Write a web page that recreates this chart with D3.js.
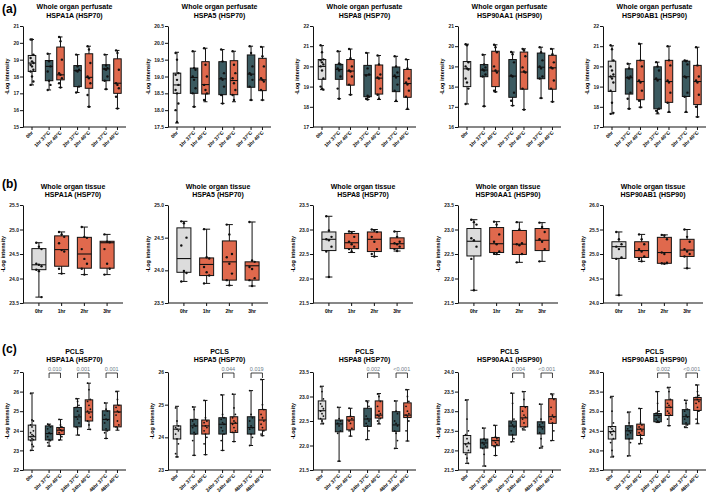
<!DOCTYPE html>
<html>
<head>
<meta charset="utf-8">
<script src="https://cdn.jsdelivr.net/npm/d3@7"></script>
<style>
  body { margin: 0; background: #fff; }
  text { font-family: "Liberation Sans", Arial, sans-serif; }
</style>
</head>
<body>
<svg id="fig" width="709" height="500"></svg>
<script>
// ---------- categories / labels ----------
var groupsA = ['0hr', '1hr 37°C', '1hr 40°C', '2hr 37°C', '2hr 40°C', '3hr 37°C', '3hr 40°C'];
var groupsB = ['0hr', '1hr', '2hr', '3hr'];
var groupsC = ['0hr', '3hr 37°C', '3hr 40°C', '24hr 37°C', '24hr 40°C', '48hr 37°C', '48hr 40°C'];
var proteins = ['HSPA1A (HSP70)', 'HSPA5 (HSP70)', 'HSPA8 (HSP70)', 'HSP90AA1 (HSP90)', 'HSP90AB1 (HSP90)'];
var sources = ['Whole organ perfusate', 'Whole organ tissue', 'PCLS'];

// y axis [min, max, step]
var yAxisA = [[15, 21, 1], [17.5, 20.5, 0.5], [17, 22, 1], [16, 21, 1], [17, 22, 1]];
var yAxisB = [[23.5, 25.5, 0.5], [23.5, 25.0, 0.5], [21.5, 23.5, 0.5], [21.5, 23.5, 0.5], [24.0, 26.0, 0.5]];
var yAxisC = [[22, 27, 1], [23, 26, 1], [21.5, 23.5, 0.5], [21.5, 24.0, 0.5], [23.5, 26.0, 0.5]];

// p values over the 37/40 pairs in (c)
var pvalsC = [
  ['0.010', '0.001', '0.001'],
  [null, '0.044', '0.019'],
  [null, '0.002', '<0.001'],
  [null, '0.004', '<0.001'],
  [null, '0.002', '<0.001']
];

// ---------- (a) whole organ perfusate: [min, q1, median, q3, max] ----------
var perfHSPA1A = [[17.5, 18.3, 18.8, 19.25, 20.2], [17.2, 17.75, 18.6, 18.95, 19.35], [17.35, 17.8, 18.1, 19.75, 20.35],
  [17.05, 17.4, 18.35, 18.65, 19.3], [16.2, 17.3, 17.95, 19.35, 19.8], [17.25, 17.75, 18.45, 18.7, 19.3], [16.1, 17.0, 17.6, 19.05, 19.55]];
var perfHSPA1A_pts = [[20.2, 20.2, 19.3, 19.1, 18.9, 18.8, 18.7, 18.6, 18.4, 18.3, 18.0, 17.7, 17.5], [19.35, 18.9, 18.6, 18.3, 17.75, 17.5, 17.2],
  [20.35, 20.1, 19.0, 18.2, 18.1, 17.9, 17.6, 17.35], [19.3, 18.6, 18.4, 18.35, 18.3, 17.4, 17.05], [19.8, 19.6, 18.8, 18.0, 17.9, 17.6, 16.9, 16.2],
  [19.3, 18.65, 18.5, 18.45, 18.4, 18.0, 17.75, 17.25], [19.55, 19.4, 18.4, 17.6, 17.5, 17.3, 16.8, 16.1]];

var perfHSPA5 = [[17.62, 18.5, 18.75, 19.1, 19.72], [18.1, 18.5, 18.97, 19.25, 19.75], [18.25, 18.48, 18.76, 19.44, 19.84],
  [18.2, 18.46, 18.93, 19.44, 19.8], [18.25, 18.46, 18.88, 19.47, 19.75], [18.3, 18.68, 19.07, 19.64, 19.9], [18.3, 18.58, 18.9, 19.54, 19.88]];
var perfHSPA5_pts = [[19.7, 19.5, 19.1, 19.05, 18.9, 18.75, 18.6, 18.5, 18.2, 18.0, 17.65], [19.75, 19.25, 19.2, 19.0, 18.9, 18.65, 18.5, 18.1],
  [19.84, 19.35, 19.0, 18.75, 18.6, 18.5, 18.3], [19.8, 19.45, 19.1, 18.95, 18.9, 18.7, 18.45, 18.2], [19.75, 19.35, 19.1, 18.95, 18.8, 18.6, 18.45, 18.3],
  [19.9, 19.7, 19.3, 19.1, 19.05, 18.9, 18.7, 18.3], [19.88, 19.6, 19.3, 18.95, 18.9, 18.85, 18.6, 18.3]];

var perfHSPA8 = [[18.85, 19.36, 20.0, 20.34, 21.03], [18.4, 19.36, 19.85, 20.1, 20.75], [18.6, 19.07, 19.77, 20.34, 20.86],
  [18.36, 18.5, 19.58, 20.05, 20.67], [18.36, 18.63, 19.42, 20.07, 20.54], [18.26, 18.75, 19.5, 19.97, 20.5], [17.87, 18.47, 19.15, 19.85, 20.34]];
var perfHSPA8_pts = [[21.05, 20.7, 20.35, 20.3, 20.2, 20.1, 20.0, 19.8, 19.4, 19.0, 18.9, 18.85], [20.75, 20.15, 20.1, 19.9, 19.8, 19.5, 18.9, 18.4],
  [20.86, 20.4, 20.0, 19.8, 19.75, 19.5, 19.1, 18.6], [20.67, 19.9, 19.6, 19.55, 18.55, 18.5, 18.4, 18.36], [20.54, 20.1, 19.6, 19.45, 19.4, 18.9, 18.6, 18.4],
  [20.5, 20.0, 19.7, 19.55, 19.45, 19.1, 18.8, 18.3], [20.35, 19.9, 19.4, 19.2, 19.1, 18.8, 18.5, 17.9]];

var perfHSP90AA1 = [[17.14, 18.0, 18.88, 19.24, 20.1], [17.03, 18.49, 18.82, 19.09, 19.58], [17.74, 18.0, 18.77, 19.75, 20.07],
  [17.06, 17.47, 18.52, 19.34, 19.71], [16.86, 17.87, 18.72, 19.71, 19.87], [17.43, 18.39, 18.96, 19.66, 19.95], [17.25, 17.87, 18.93, 19.55, 19.87]];
var perfHSP90AA1_pts = [[20.1, 20.05, 19.2, 19.0, 18.9, 18.85, 18.4, 18.2, 17.9, 17.14], [19.58, 19.1, 18.95, 18.85, 18.8, 18.6, 18.5, 17.03],
  [20.07, 19.95, 19.7, 19.0, 18.8, 18.7, 17.8, 17.74], [19.71, 19.6, 19.2, 18.55, 18.5, 17.7, 17.3, 17.06], [19.87, 19.8, 19.5, 18.95, 18.75, 18.7, 17.9, 16.86],
  [19.95, 19.7, 19.3, 19.0, 18.9, 18.5, 18.4, 17.43], [19.87, 19.6, 19.2, 18.95, 18.9, 18.3, 17.9, 17.25]];

var perfHSP90AB1 = [[17.65, 18.76, 19.49, 20.26, 21.02], [17.9, 18.63, 19.44, 19.88, 20.13], [17.98, 18.35, 19.25, 20.3, 21.12],
  [17.65, 17.9, 19.36, 19.98, 20.21], [17.73, 18.22, 19.25, 20.3, 21.0], [17.73, 18.51, 19.49, 20.26, 20.3], [17.5, 18.11, 19.25, 20.05, 20.95]];
var perfHSP90AB1_pts = [[21.05, 20.85, 20.3, 20.0, 19.8, 19.6, 19.5, 19.4, 19.2, 18.8, 18.2, 17.7, 17.65], [20.13, 19.9, 19.5, 19.45, 19.4, 18.7, 18.4, 17.9],
  [21.12, 20.3, 20.0, 19.3, 19.2, 18.8, 18.3, 17.98], [20.21, 20.0, 19.8, 19.4, 19.3, 17.9, 17.8, 17.7], [21.0, 20.3, 20.05, 19.3, 19.2, 18.7, 18.2, 17.75],
  [20.3, 20.25, 20.1, 19.5, 19.45, 18.7, 18.5, 17.75], [20.95, 20.05, 19.5, 19.3, 19.2, 18.6, 18.0, 17.5]];

// ---------- (b) whole organ tissue ----------
var tisHSPA1A = [[23.62, 24.18, 24.28, 24.61, 24.73], [24.1, 24.25, 24.59, 24.87, 24.95], [24.08, 24.21, 24.5, 24.84, 25.05], [24.08, 24.21, 24.73, 24.76, 24.9]];
var tisHSPA1A_pts = [[24.73, 24.65, 24.6, 24.3, 24.28, 24.25, 24.18, 24.15, 23.62], [24.95, 24.9, 24.85, 24.72, 24.58, 24.55, 24.2, 24.1],
  [25.05, 24.85, 24.83, 24.6, 24.4, 24.3, 24.2, 24.08], [24.9, 24.75, 24.74, 24.6, 24.3, 24.2, 24.08]];

var tisHSPA5 = [[23.83, 23.97, 24.18, 24.65, 24.75], [23.8, 23.92, 24.09, 24.19, 24.63], [23.77, 23.85, 24.13, 24.45, 24.7], [23.76, 23.85, 24.07, 24.13, 24.74]];
var tisHSPA5_pts = [[24.75, 24.72, 24.5, 24.38, 23.99, 23.96, 23.83], [24.63, 24.2, 24.18, 24.05, 23.97, 23.92, 23.8],
  [24.7, 24.55, 24.25, 24.2, 24.1, 23.95, 23.85, 23.77], [24.74, 24.15, 24.13, 24.05, 24.02, 23.88, 23.85, 23.76]];

var tisHSPA8 = [[22.03, 22.57, 22.8, 22.95, 23.27], [22.53, 22.61, 22.73, 22.92, 22.96], [22.45, 22.55, 22.8, 22.95, 23.0], [22.56, 22.61, 22.71, 22.83, 22.96]];
var tisHSPA8_pts = [[23.27, 22.98, 22.85, 22.8, 22.78, 22.65, 22.55, 22.03], [22.96, 22.93, 22.85, 22.75, 22.7, 22.65, 22.6, 22.55],
  [23.0, 22.98, 22.95, 22.85, 22.75, 22.6, 22.5, 22.45], [22.96, 22.85, 22.75, 22.72, 22.7, 22.65, 22.6, 22.56]];

var tisHSP90AA1 = [[21.76, 22.46, 22.76, 23.02, 23.2], [22.49, 22.53, 22.71, 23.04, 23.16], [22.33, 22.49, 22.7, 22.98, 23.15], [22.35, 22.57, 22.78, 23.02, 23.14]];
var tisHSP90AA1_pts = [[23.2, 23.15, 23.1, 22.82, 22.78, 22.65, 22.4, 21.76], [23.16, 23.1, 22.9, 22.75, 22.7, 22.55, 22.52, 22.5],
  [23.15, 23.0, 22.72, 22.7, 22.68, 22.5, 22.33], [23.14, 23.05, 22.95, 22.8, 22.75, 22.6, 22.35]];

var tisHSP90AB1 = [[24.16, 24.91, 25.15, 25.25, 25.45], [24.85, 24.93, 25.07, 25.25, 25.4], [24.8, 24.81, 25.03, 25.34, 25.39], [24.71, 24.95, 25.08, 25.3, 25.5]];
var tisHSP90AB1_pts = [[25.45, 25.3, 25.2, 25.15, 25.1, 24.93, 24.9, 24.16], [25.4, 25.3, 25.2, 25.1, 25.05, 24.95, 24.9, 24.85],
  [25.39, 25.38, 25.3, 25.03, 25.0, 24.82, 24.81, 24.8], [25.5, 25.35, 25.25, 25.1, 25.05, 25.0, 24.95, 24.71]];

// ---------- (c) PCLS ----------
var pclsHSPA1A = [[23.0, 23.53, 23.7, 24.29, 25.93], [23.22, 23.53, 23.86, 24.25, 24.34], [23.53, 23.81, 24.03, 24.17, 24.58],
  [23.78, 24.2, 24.71, 25.19, 25.64], [24.07, 24.5, 24.96, 25.58, 26.43], [23.61, 24.03, 24.58, 25.02, 25.42], [24.03, 24.2, 24.96, 25.31, 26.02]];
var pclsHSPA1A_pts = [[25.9, 24.55, 24.5, 24.3, 24.2, 24.0, 23.9, 23.8, 23.75, 23.7, 23.6, 23.55, 23.5, 23.3, 23.2, 23.0],
  [24.34, 24.3, 24.2, 24.1, 23.9, 23.86, 23.7, 23.55, 23.5, 23.4, 23.22], [24.58, 24.3, 24.2, 24.1, 24.05, 24.0, 23.9, 23.8, 23.7, 23.53],
  [25.64, 25.5, 25.3, 25.2, 25.0, 24.8, 24.7, 24.6, 24.4, 24.2, 24.1, 23.78], [26.43, 26.1, 25.6, 25.5, 25.3, 25.1, 25.0, 24.9, 24.7, 24.5, 24.3, 24.07],
  [25.42, 25.1, 25.0, 24.8, 24.6, 24.55, 24.4, 24.1, 24.0, 23.9, 23.61], [26.0, 25.6, 25.3, 25.2, 25.0, 24.95, 24.8, 24.5, 24.3, 24.2, 24.1]];

var pclsHSPA5 = [[23.4, 23.95, 24.25, 24.35, 24.95], [23.45, 24.1, 24.35, 24.55, 24.93], [23.47, 24.1, 24.35, 24.53, 25.13],
  [23.6, 24.1, 24.4, 24.6, 25.3], [23.87, 24.15, 24.43, 24.63, 25.32], [23.75, 24.1, 24.3, 24.63, 25.43], [24.05, 24.22, 24.53, 24.85, 25.77]];
var pclsHSPA5_pts = [[24.9, 24.5, 24.35, 24.3, 24.25, 24.2, 24.1, 23.95, 23.8, 23.5, 23.4], [24.93, 24.85, 24.55, 24.5, 24.4, 24.35, 24.3, 24.15, 24.1, 23.9, 23.45],
  [25.13, 24.6, 24.5, 24.45, 24.35, 24.3, 24.2, 24.1, 24.0, 23.8, 23.47], [25.3, 24.7, 24.6, 24.55, 24.45, 24.4, 24.3, 24.2, 24.1, 23.9, 23.6],
  [25.32, 24.9, 24.7, 24.6, 24.5, 24.45, 24.4, 24.3, 24.2, 24.15, 23.87], [25.43, 24.7, 24.6, 24.5, 24.35, 24.3, 24.25, 24.1, 24.0, 23.75],
  [25.77, 25.0, 24.85, 24.7, 24.6, 24.5, 24.4, 24.3, 24.2, 24.1, 24.05]];

var pclsHSPA8 = [[22.44, 22.54, 22.71, 22.91, 23.21], [21.68, 22.28, 22.44, 22.52, 22.78], [22.19, 22.32, 22.52, 22.59, 22.76],
  [22.12, 22.39, 22.54, 22.76, 22.91], [22.44, 22.56, 22.62, 22.91, 23.06], [21.94, 22.29, 22.42, 22.69, 22.91], [22.09, 22.57, 22.62, 22.87, 23.14]];
var pclsHSPA8_pts = [[23.2, 23.1, 22.95, 22.85, 22.8, 22.75, 22.7, 22.65, 22.6, 22.55, 22.5, 22.45], [22.78, 22.55, 22.5, 22.45, 22.4, 22.3, 22.25, 21.68],
  [22.76, 22.6, 22.55, 22.5, 22.45, 22.35, 22.3, 22.2], [22.91, 22.88, 22.8, 22.6, 22.55, 22.5, 22.45, 22.4, 22.3, 22.12],
  [23.05, 23.0, 22.9, 22.8, 22.7, 22.65, 22.62, 22.6, 22.55, 22.5, 22.45], [22.91, 22.7, 22.65, 22.5, 22.45, 22.4, 22.3, 22.25, 22.1, 21.94],
  [23.14, 23.0, 22.9, 22.8, 22.7, 22.65, 22.62, 22.6, 22.5, 22.3, 22.1]];

var pclsHSP90AA1 = [[21.67, 21.94, 22.17, 22.38, 23.29], [21.6, 22.06, 22.19, 22.29, 22.57], [21.87, 22.12, 22.25, 22.33, 22.64],
  [22.22, 22.39, 22.62, 22.75, 23.46], [22.52, 22.6, 22.83, 23.12, 23.5], [22.06, 22.42, 22.6, 22.73, 23.18], [22.25, 22.69, 22.86, 23.32, 23.44]];
var pclsHSP90AA1_pts = [[23.28, 22.8, 22.5, 22.4, 22.3, 22.2, 22.15, 22.1, 22.0, 21.9, 21.8, 21.67], [22.57, 22.3, 22.25, 22.2, 22.15, 22.1, 22.05, 21.9, 21.6],
  [22.64, 22.35, 22.3, 22.25, 22.2, 22.15, 22.1, 21.87], [23.46, 23.2, 22.8, 22.7, 22.65, 22.6, 22.5, 22.4, 22.3, 22.22],
  [23.5, 23.3, 23.1, 23.0, 22.9, 22.85, 22.8, 22.7, 22.6, 22.55], [23.18, 22.8, 22.7, 22.65, 22.6, 22.55, 22.45, 22.3, 22.1, 22.06],
  [23.44, 23.4, 23.3, 23.1, 22.9, 22.85, 22.8, 22.7, 22.5, 22.25]];

var pclsHSP90AB1 = [[23.83, 24.29, 24.48, 24.61, 25.38], [23.86, 24.29, 24.5, 24.63, 24.98], [24.17, 24.38, 24.54, 24.67, 25.07],
  [24.71, 24.73, 24.89, 24.94, 25.5], [24.63, 24.89, 25.1, 25.29, 25.61], [24.58, 24.67, 24.86, 25.04, 25.28], [24.68, 25.02, 25.29, 25.35, 25.67]];
var pclsHSP90AB1_pts = [[25.35, 25.0, 24.7, 24.6, 24.55, 24.5, 24.45, 24.4, 24.3, 24.2, 24.0, 23.85], [24.97, 24.7, 24.6, 24.55, 24.5, 24.45, 24.4, 24.3, 24.2, 23.86],
  [25.07, 24.7, 24.65, 24.6, 24.55, 24.5, 24.45, 24.4, 24.3, 24.17], [25.5, 25.2, 25.0, 24.95, 24.9, 24.85, 24.8, 24.75, 24.72],
  [25.6, 25.5, 25.3, 25.2, 25.15, 25.1, 25.0, 24.95, 24.9, 24.8, 24.63], [25.28, 25.2, 25.05, 25.0, 24.9, 24.85, 24.8, 24.7, 24.65, 24.6],
  [25.67, 25.5, 25.4, 25.35, 25.3, 25.25, 25.2, 25.1, 25.0, 24.8, 24.7]];

var boxesA = [perfHSPA1A, perfHSPA5, perfHSPA8, perfHSP90AA1, perfHSP90AB1];
var pointsA = [perfHSPA1A_pts, perfHSPA5_pts, perfHSPA8_pts, perfHSP90AA1_pts, perfHSP90AB1_pts];
var boxesB = [tisHSPA1A, tisHSPA5, tisHSPA8, tisHSP90AA1, tisHSP90AB1];
var pointsB = [tisHSPA1A_pts, tisHSPA5_pts, tisHSPA8_pts, tisHSP90AA1_pts, tisHSP90AB1_pts];
var boxesC = [pclsHSPA1A, pclsHSPA5, pclsHSPA8, pclsHSP90AA1, pclsHSP90AB1];
var pointsC = [pclsHSPA1A_pts, pclsHSPA5_pts, pclsHSPA8_pts, pclsHSP90AA1_pts, pclsHSP90AB1_pts];

// ---------- styling ----------
var grey_fill = '#dcdcdc';
var teal_fill = '#3b5a60';
var orange_fill = '#e0694d';
var p_color = '#6e7c88';
var font_bold = 700;

var svg = d3.select('#fig');

var col_x0 = 23;        // y axis x of first panel
var col_step = 145;
var axis_len = 103;
var row_top = [26, 205, 372];
var row_bottom = [127, 303, 470];
var row_letter_y = [13, 188, 353];
var row_title_y = [9, 188.5, 353.5];

function fillFor(label, row){
  if (label === '0hr') return grey_fill;
  if (row === 1) return orange_fill;
  return label.indexOf('37') > -1 ? teal_fill : orange_fill;
}

// slot position of the paired groups, 0hr alone then pairs with a gap
function slot(i){
  if (i === 0) return 0;
  return 1.5 + (i - 1) + Math.floor((i - 1) / 2) * 0.5;
}

function drawPanel(row, col, groups, yAxisDef, boxes, points, pvals){
  var ax = col_x0 + col * col_step;
  var top = row_top[row], bottom = row_bottom[row];
  var g = svg.append('g').attr('transform', 'translate(' + ax + ',0)');

  var y = d3.scaleLinear().domain([yAxisDef[0], yAxisDef[1]]).range([bottom, top]);

  var xpos, box_w, cap_w;
  if (row === 1){
    var xp = d3.scalePoint().domain(groups).range([0, 100]).padding(0.7);
    xpos = function(i){ return xp(groups[i]); };
    box_w = 14; cap_w = 7;
  } else {
    var xl = d3.scaleLinear().domain([-0.79, 8.25]).range([0, axis_len]);
    xpos = function(i){ return xl(slot(i)); };
    box_w = 7.5; cap_w = 4;
  }
  var x_end = row === 1 ? 100 : axis_len;

  // titles
  var cx = x_end / 2;
  g.append('text').attr('x', cx).attr('y', row_title_y[row])
    .attr('text-anchor', 'middle').style('font-size', '7px').style('font-weight', font_bold)
    .text(sources[row]);
  g.append('text').attr('x', cx).attr('y', row_title_y[row] + 8.5)
    .attr('text-anchor', 'middle').style('font-size', '7px').style('font-weight', font_bold)
    .text(proteins[col]);

  // y axis
  var step = yAxisDef[2];
  var ticks = d3.range(yAxisDef[0], yAxisDef[1] + step / 2, step);
  var yAxis = d3.axisLeft(y).tickValues(ticks).tickSize(3).tickSizeOuter(0)
    .tickFormat(step < 1 ? d3.format('.1f') : d3.format('d'));
  var yg = g.append('g').call(yAxis);
  yg.select('.domain').attr('stroke', '#111').attr('stroke-width', 1);
  yg.selectAll('.tick line').attr('stroke', '#111').attr('stroke-width', 1);
  yg.selectAll('.tick text').attr('x', -4).style('font-size', '5px').style('font-weight', font_bold)
    .style('font-family', '"Liberation Sans", Arial, sans-serif').attr('fill', '#222');

  g.append('text')
    .attr('transform', 'translate(' + (step < 1 ? -18 : -14) + ',' + ((top + bottom) / 2) + ') rotate(-90)')
    .attr('text-anchor', 'middle').style('font-size', '5.5px').style('font-weight', font_bold)
    .text('-Log intensity');

  // x axis
  g.append('line').attr('x1', 0).attr('x2', x_end).attr('y1', bottom).attr('y2', bottom)
    .attr('stroke', '#111').attr('stroke-width', 1);
  groups.forEach(function(lab, i){
    var xi = xpos(i);
    g.append('line').attr('x1', xi).attr('x2', xi).attr('y1', bottom).attr('y2', bottom + 3)
      .attr('stroke', '#111').attr('stroke-width', 1);
    if (row === 1){
      g.append('text').attr('x', xi).attr('y', bottom + 10).attr('text-anchor', 'middle')
        .style('font-size', '5px').style('font-weight', font_bold).text(lab);
    } else {
      g.append('text').attr('transform', 'translate(' + (xi + 1.5) + ',' + (bottom + 6) + ') rotate(-45)')
        .attr('text-anchor', 'end').style('font-size', '5px').style('font-weight', font_bold).text(lab);
    }
  });

  // boxes
  boxes.forEach(function(b, i){
    var xi = xpos(i);
    var bg = g.append('g');
    bg.append('line').attr('x1', xi).attr('x2', xi).attr('y1', y(b[0])).attr('y2', y(b[4]))
      .attr('stroke', '#111').attr('stroke-width', 1);
    [b[0], b[4]].forEach(function(v){
      bg.append('line').attr('x1', xi - cap_w / 2).attr('x2', xi + cap_w / 2).attr('y1', y(v)).attr('y2', y(v))
        .attr('stroke', '#111').attr('stroke-width', 1);
    });
    bg.append('rect').attr('x', xi - box_w / 2).attr('width', box_w)
      .attr('y', y(b[3])).attr('height', Math.max(0.5, y(b[1]) - y(b[3])))
      .attr('fill', fillFor(groups[i], row)).attr('stroke', '#111').attr('stroke-width', 1);
    bg.append('line').attr('x1', xi - box_w / 2).attr('x2', xi + box_w / 2).attr('y1', y(b[2])).attr('y2', y(b[2]))
      .attr('stroke', '#111').attr('stroke-width', 1.1);

    // individual values
    var jit = row === 1 ? 2.6 : 1.4;
    bg.selectAll('circle').data(points[i]).enter().append('circle')
      .attr('cx', function(d, k){ return xi + ((k % 3) - 1) * jit; })
      .attr('cy', function(d){ return y(d); })
      .attr('r', row === 2 ? 0.9 : 1.2)
      .attr('fill', '#111');
  });

  // p value brackets
  if (pvals){
    pvals.forEach(function(p, k){
      if (!p) return;
      var x1 = xpos(2 * k + 1), x2 = xpos(2 * k + 2);
      var by = top + 1;
      g.append('path').attr('d', 'M' + x1 + ',' + (by + 5) + 'V' + by + 'H' + x2 + 'V' + (by + 5))
        .attr('fill', 'none').attr('stroke', '#111').attr('stroke-width', 0.8);
      g.append('text').attr('x', (x1 + x2) / 2).attr('y', by - 2.5).attr('text-anchor', 'middle')
        .style('font-size', '5.5px').attr('fill', p_color).text(p);
    });
  }
}

for (var c = 0; c < 5; c++){
  drawPanel(0, c, groupsA, yAxisA[c], boxesA[c], pointsA[c], null);
  drawPanel(1, c, groupsB, yAxisB[c], boxesB[c], pointsB[c], null);
  drawPanel(2, c, groupsC, yAxisC[c], boxesC[c], pointsC[c], pvalsC[c]);
}

// panel letters
['(a)', '(b)', '(c)'].forEach(function(t, i){
  svg.append('text').attr('x', 2).attr('y', row_letter_y[i])
    .style('font-size', '12px').style('font-weight', font_bold).text(t);
});
</script>
</body>
</html>
